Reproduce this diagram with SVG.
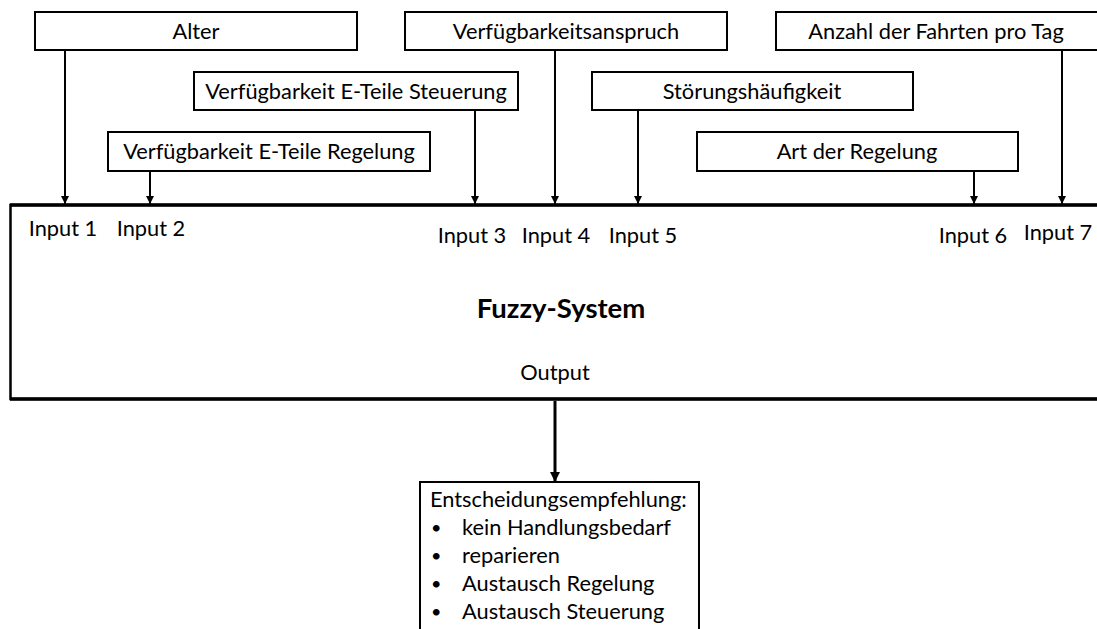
<svg xmlns="http://www.w3.org/2000/svg" width="1097" height="629" viewBox="0 0 1097 629">
  <defs>
    <marker id="head" viewBox="0 0 8 8" markerWidth="8" markerHeight="8" refX="8" refY="4" orient="auto" markerUnits="userSpaceOnUse">
      <path d="M0,0 L8,4 L0,8 z" fill="#000"/>
    </marker>
    <marker id="headBig" viewBox="0 0 10 10" markerWidth="10" markerHeight="10" refX="10" refY="5" orient="auto" markerUnits="userSpaceOnUse">
      <path d="M0,0 L10,5 L0,10 z" fill="#000"/>
    </marker>
    <style>
      .box { fill: #fff; stroke: #000; stroke-width: 2; }
      .t { font-family: Lato, "Liberation Sans", sans-serif; font-size: 21.8px; fill: #000; }
      .c { text-anchor: middle; }
      .bullet { font-family: Lato, "Liberation Sans", sans-serif; font-size: 18px; fill: #000; }
      .title { font-family: Lato, "Liberation Sans", sans-serif; font-size: 27.5px; font-weight: bold; fill: #000; text-anchor: middle; }
      .wire { stroke: #000; stroke-width: 2; fill: none; marker-end: url(#head); }
      .wire-out { stroke: #000; stroke-width: 3; fill: none; marker-end: url(#headBig); }
    </style>
  </defs>
  <rect width="1097" height="629" fill="#fff"/>

  <!-- central processing block (right side runs off the page) -->
  <g id="fuzzy-system">
    <rect x="10.5" y="205" width="1100" height="194" fill="#fff"/>
    <path d="M1100,205 H10.5 V399 H1100" fill="none" stroke="#000" stroke-width="2.5"/>
    <path d="M10,205 H1100 M10,399 H1100" fill="none" stroke="#000" stroke-width="3.5"/>
    <text class="t c" x="63" y="236">Input 1</text>
    <text class="t c" x="151" y="236">Input 2</text>
    <text class="t c" x="472" y="243">Input 3</text>
    <text class="t c" x="556" y="243">Input 4</text>
    <text class="t c" x="643" y="243">Input 5</text>
    <text class="t c" x="973" y="243">Input 6</text>
    <text class="t c" x="1058" y="240">Input 7</text>
    <text class="title" x="561" y="318">Fuzzy-System</text>
    <text class="t c" x="555" y="380">Output</text>
  </g>

  <!-- input parameters -->
  <g id="alter">
    <rect class="box" x="35" y="12" width="322" height="38"/>
    <text class="t c" x="196" y="39">Alter</text>
  </g>
  <g id="verfuegbarkeitsanspruch">
    <rect class="box" x="405" y="12" width="322" height="38"/>
    <text class="t c" x="566" y="39">Verfügbarkeitsanspruch</text>
  </g>
  <g id="anzahl-fahrten">
    <rect class="box" x="776" y="12" width="330" height="38"/>
    <text class="t c" x="936" y="39">Anzahl der Fahrten pro Tag</text>
  </g>
  <g id="e-teile-steuerung">
    <rect class="box" x="194" y="72" width="324" height="38"/>
    <text class="t c" x="356" y="99">Verfügbarkeit E-Teile Steuerung</text>
  </g>
  <g id="stoerungshaeufigkeit">
    <rect class="box" x="592" y="72" width="321" height="38"/>
    <text class="t c" x="752" y="99">Störungshäufigkeit</text>
  </g>
  <g id="e-teile-regelung">
    <rect class="box" x="108" y="132" width="322" height="39"/>
    <text class="t c" x="269" y="159">Verfügbarkeit E-Teile Regelung</text>
  </g>
  <g id="art-der-regelung">
    <rect class="box" x="697" y="132" width="321" height="39"/>
    <text class="t c" x="857" y="159">Art der Regelung</text>
  </g>

  <!-- decision output -->
  <g id="entscheidungsempfehlung">
    <rect class="box" x="420" y="482" width="279" height="170"/>
    <text class="t" x="430" y="507">Entscheidungsempfehlung:</text>
    <text class="bullet" x="431" y="534">•</text>
    <text class="t" x="462" y="535">kein Handlungsbedarf</text>
    <text class="bullet" x="431" y="562">•</text>
    <text class="t" x="462" y="563">reparieren</text>
    <text class="bullet" x="431" y="590">•</text>
    <text class="t" x="462" y="591">Austausch Regelung</text>
    <text class="bullet" x="431" y="618">•</text>
    <text class="t" x="462" y="619">Austausch Steuerung</text>
  </g>

  <g id="connectors">
    <line class="wire" x1="65" y1="51" x2="65" y2="204"/>
    <line class="wire" x1="150" y1="172" x2="150" y2="204"/>
    <line class="wire" x1="475" y1="111" x2="475" y2="204"/>
    <line class="wire" x1="555" y1="51" x2="555" y2="204"/>
    <line class="wire" x1="638" y1="111" x2="638" y2="204"/>
    <line class="wire" x1="974" y1="172" x2="974" y2="204"/>
    <line class="wire" x1="1062" y1="51" x2="1062" y2="204"/>
    <line class="wire-out" x1="555" y1="401" x2="555" y2="482"/>
  </g>
</svg>
